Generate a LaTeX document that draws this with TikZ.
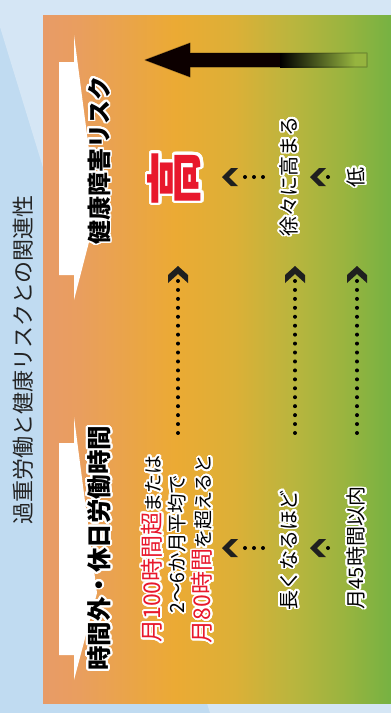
\documentclass[tikz,border=0pt]{standalone}
\usepackage{fontspec}
\setmainfont{Noto Sans CJK JP}
\usepackage{contour}
\contourlength{1.8pt}
\contournumber{32}
\definecolor{bgdark}{RGB}{192,219,241}
\definecolor{bglight}{RGB}{213,230,245}
\definecolor{jred}{RGB}{232,24,44}
\definecolor{titlec}{RGB}{35,35,35}
\definecolor{fadeend}{RGB}{150,180,63}
\pgfdeclarehorizontalshading{panelshade}{100bp}{rgb(0bp)=(.910,.608,.404); rgb(25bp)=(.910,.608,.404); rgb(30bp)=(.914,.620,.373); rgb(44bp)=(.922,.667,.204); rgb(52.5bp)=(.863,.690,.216); rgb(61bp)=(.725,.710,.243); rgb(68bp)=(.608,.706,.247); rgb(75bp)=(.463,.698,.259); rgb(100bp)=(.463,.698,.259)}
\newcommand{\wo}[1]{\contour{white}{#1}}
\tikzset{
  jfont/.style={font=\fontsize{#1}{#1}\selectfont},
  bfont/.style={font=\bfseries\fontsize{#1}{#1}\selectfont},
  dotsh/.style={line width=4pt, line cap=round, dash pattern=on 0pt off 9pt},
  dotsv/.style={line width=4pt, line cap=round, dash pattern=on 0pt off 8.94pt},
  chevup/.pic={\fill[black!88] (0,0)--(10,9)--(10,17)--(0,8)--(-10,17)--(-10,9)--cycle;},
  chevleft/.pic={\fill[black!88] (0,0)--(9,-9)--(16,-9)--(7,0)--(16,9)--(9,9)--cycle;},
}
\begin{document}
\begin{tikzpicture}[x=1pt,y=-1pt]
\useasboundingbox (0,0) rectangle (391,713);
% background
\fill[bgdark] (0,0) rectangle (391,713);
\fill[bglight] (0,0) -- (0,27) -- (210,713) -- (391,713) -- (391,0) -- cycle;
% panel
\shade[shading=panelshade] (43,15) rectangle (391,703);
% white banners
\fill[white] (59,62) -- (74,62) -- (74,35) -- (97,211) -- (74,300) -- (74,275) -- (59,275) -- cycle;
\fill[white] (59,443) -- (74,443) -- (74,417) -- (97,593) -- (74,680) -- (74,655) -- (59,655) -- cycle;
% big arrow
\fill[black!92!red!60!black] (145,60) -- (190,43) -- (190,53) -- (281,53) -- (281,67) -- (190,67) -- (190,77) -- cycle;
\shade[left color=black, right color=fadeend] (280,53) rectangle (355,67);
\fill[fadeend] (355,53) rectangle (367,67);
\draw[black, draw opacity=0.22, line width=1.3pt, line join=round] (145,60) -- (190,43) -- (190,53) -- (367,53) -- (367,67) -- (190,67) -- (190,77) -- cycle;
% title
\node[rotate=90, jfont=22, text=titlec] (title) at (23,360) {過重労働と健康リスクとの関連性};
% headers
\node[rotate=90, bfont=24] (risk) at (100,160) {\wo{健康障害リスク}};
\node[rotate=90, bfont=24.5] (hours) at (100,548) {\wo{時間外・休日労働時間}};
% row 1
\node[rotate=90, bfont=56, text=jred] (high) at (176,178) {\contourlength{2.8pt}\contour{white}{高}};
\node[rotate=90, jfont=20] (mid) at (290,176) {\wo{徐々に高まる}};
\node[rotate=90, jfont=20] (low) at (357,177) {\wo{低}};
\coordinate (h1) at (222,177);
\coordinate (h1a) at (245,177);
\coordinate (h1b) at (272,177);
\coordinate (h2) at (310,177);
\coordinate (h2a) at (328,177);
\coordinate (h2b) at (336,177);
\draw[dotsh] (h1a) -- (h1b);
\draw[dotsh] (h2a) -- (h2b);
\pic at (h1) {chevleft};
\pic at (h2) {chevleft};
% vertical arrows
\foreach \x/\n in {178/va,295/vb,357/vc}{
  \coordinate (\n top) at (\x,266);
  \coordinate (\n s) at (\x,281);
  \coordinate (\n e) at (\x,433);
  \draw[dotsv] (\n s) -- (\n e);
  \pic at (\n top) {chevup};
}
% row 3
\node[rotate=90, inner sep=0pt] (l1) at (153,549) {\textcolor{jred}{\fontsize{23}{23}\selectfont\wo{月100時間超}}\fontsize{19}{19}\selectfont\wo{または}};
\node[rotate=90, jfont=19.5, inner sep=0pt] (l2) at (178,544) {\wo{2〜6か月平均で}};
\node[rotate=90, inner sep=0pt] (l3) at (203,549) {\textcolor{jred}{\fontsize{23}{23}\selectfont\wo{月80時間}}\fontsize{19}{19}\selectfont\wo{を超えると}};
\node[rotate=90, jfont=20] (long) at (290,550) {\wo{長くなるほど}};
\node[rotate=90, jfont=20] (m45) at (357,548) {\wo{月45時間以内}};
\coordinate (h3) at (222,548);
\coordinate (h3a) at (245,548);
\coordinate (h3b) at (272,548);
\coordinate (h4) at (310,548);
\coordinate (h4a) at (328,548);
\coordinate (h4b) at (336,548);
\draw[dotsh] (h3a) -- (h3b);
\draw[dotsh] (h4a) -- (h4b);
\pic at (h3) {chevleft};
\pic at (h4) {chevleft};
\end{tikzpicture}
\end{document}
